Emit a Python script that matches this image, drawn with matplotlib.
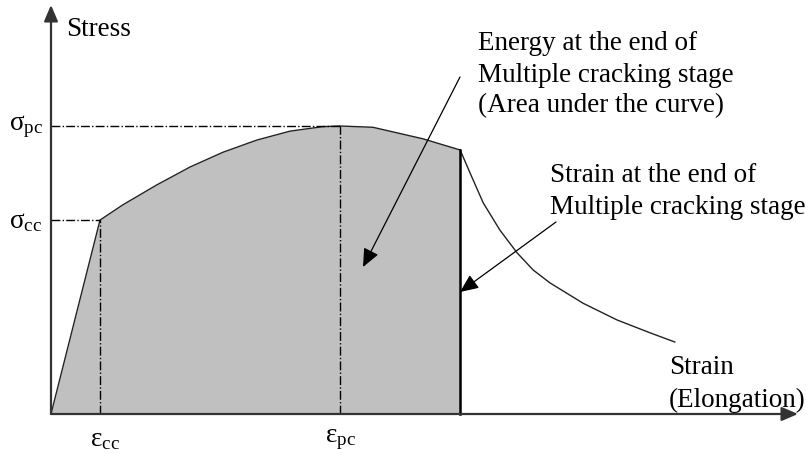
import matplotlib
matplotlib.use("Agg")
import matplotlib.pyplot as plt

# schematic stress-strain curve (arbitrary units)
hard_strain = [0.0, 1.0, 1.47, 2.16, 2.84, 3.51, 4.20, 4.88, 5.55, 5.90, 6.57, 7.59, 8.35]
hard_stress = [0.0, 3.03, 3.27, 3.58, 3.86, 4.09, 4.28, 4.42, 4.49, 4.50, 4.48, 4.30, 4.125]
soft_strain = [8.35, 8.55, 8.82, 9.16, 9.51, 9.84, 10.18, 10.86, 11.55, 12.22, 12.73]
soft_stress = [4.125, 3.77, 3.30, 2.875, 2.52, 2.25, 2.05, 1.73, 1.47, 1.27, 1.125]

eps_cc, sig_cc = 1.0, 3.03
eps_pc, sig_pc = 5.90, 4.50
eps_end, sig_end = 8.35, 4.125

plt.rcParams['font.family'] = ['Liberation Serif', 'DejaVu Serif']
plt.rcParams['mathtext.fontset'] = 'custom'
plt.rcParams['mathtext.rm'] = 'Liberation Serif'
plt.rcParams['mathtext.it'] = 'Liberation Serif:italic'

W, H = 806, 454
fig = plt.figure(figsize=(W / 100, H / 100), dpi=100)
ax = fig.add_axes([0, 0, 1, 1])
ax.set_xlim(-51 / 49, (W - 51) / 49)
ax.set_ylim((414 - H) / 64, 414 / 64)
ax.axis('off')


def px(x, y):
    # pixel position in the picture -> data units
    return (x - 51) / 49, (414 - y) / 64


# area under the curve
ax.fill_between(hard_strain, hard_stress, 0, color='#c0c0c0', lw=0)

ax.plot(hard_strain, hard_stress, color='#222222', lw=1.0)
ax.plot(soft_strain, soft_stress, color='#222222', lw=1.0)
ax.plot([eps_end, eps_end], [0, sig_end], color='black', lw=1.8)

# guide lines
ax.plot([0, eps_cc], [sig_cc, sig_cc], color='black', lw=1.0, ls='-.')
ax.plot([0, eps_pc], [sig_pc, sig_pc], color='black', lw=1.0, ls='-.')
ax.plot([eps_cc, eps_cc], [0, sig_cc], color='black', lw=1.0, ls='-.')
ax.plot([eps_pc, eps_pc], [0, sig_pc], color='black', lw=1.0, ls='-.')

# axes with arrows
head = dict(arrowstyle='-|>,head_length=0.7,head_width=0.3', color='#333333',
            lw=1.6, mutation_scale=14, shrinkA=0, shrinkB=0)
ax.annotate('', xy=px(51, 5), xytext=(0, 0), arrowprops=head)
ax.annotate('', xy=px(798, 414), xytext=(0, 0), arrowprops=head)

fs = 19.5
ax.text(*px(66, 30), 'Stress', fontsize=fs, va='center', ha='left')
ax.text(*px(43, 127), r'$\mathrm{σ_{pc}}$', fontsize=fs, va='center', ha='right')
ax.text(*px(42, 222), r'$\mathrm{σ_{cc}}$', fontsize=fs, va='center', ha='right')
ax.text(*px(105, 440), r'$\mathrm{ε_{cc}}$', fontsize=fs, va='center', ha='center')
ax.text(*px(341, 440), r'$\mathrm{ε_{pc}}$', fontsize=fs, va='center', ha='center')

lines_energy = ['Energy at the end of', 'Multiple cracking stage',
                '(Area under the curve)']
for i, s in enumerate(lines_energy):
    ax.text(*px(478, 44 + 31 * i), s, fontsize=fs, va='center', ha='left')

lines_strain = ['Strain at the end of', 'Multiple cracking stage']
for i, s in enumerate(lines_strain):
    ax.text(*px(550, 176 + 31 * i), s, fontsize=fs, va='center', ha='left')

ax.text(*px(669, 368), 'Strain', fontsize=fs, va='center', ha='left')
ax.text(*px(669, 400), '(Elongation)', fontsize=fs, va='center', ha='left')

pointer = dict(arrowstyle='-|>,head_length=0.8,head_width=0.35', color='black',
               lw=0.9, mutation_scale=14, shrinkA=0, shrinkB=0)
ax.annotate('', xy=px(363, 267), xytext=px(460, 77), arrowprops=pointer)
ax.annotate('', xy=px(460, 292), xytext=px(556, 222), arrowprops=pointer)

fig.savefig('out.png', dpi=100)
